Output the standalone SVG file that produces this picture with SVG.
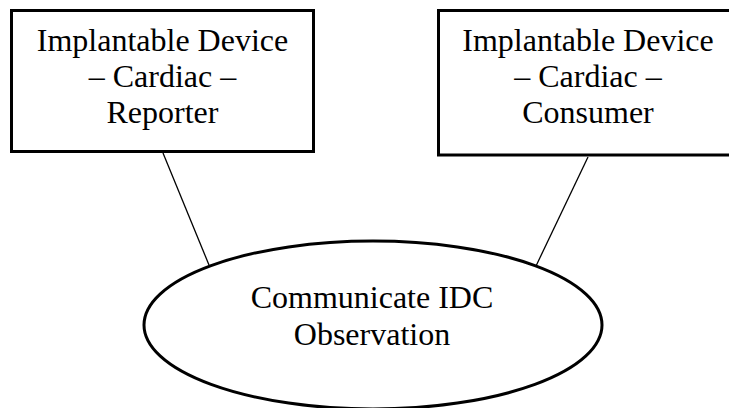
<svg xmlns="http://www.w3.org/2000/svg" width="729" height="408" viewBox="0 0 729 408">
<style>
.box{fill:#fff;stroke:#000;stroke-width:3}
.t{font-family:"Liberation Serif","Times New Roman",serif;font-size:32px;fill:#000;text-anchor:middle}
.c{stroke:#000;stroke-width:1.3;fill:none}
</style>
<rect width="729" height="408" fill="#fff"/>
<g id="connectors">
<line class="c" x1="163" y1="153" x2="209" y2="265"/>
<line class="c" x1="588" y1="157" x2="536" y2="266"/>
</g>
<g id="reporter">
<rect class="box" x="11.5" y="10.5" width="302" height="141"/>
<text class="t" x="162.5" y="51">Implantable Device</text>
<text class="t" x="162.5" y="87">– Cardiac –</text>
<text class="t" x="162.5" y="123">Reporter</text>
</g>
<g id="consumer">
<rect class="box" x="438.5" y="10.5" width="300" height="144.5"/>
<text class="t" x="588" y="51">Implantable Device</text>
<text class="t" x="588" y="87">– Cardiac –</text>
<text class="t" x="588" y="123">Consumer</text>
</g>
<g id="usecase">
<ellipse class="box" cx="373" cy="325" rx="229" ry="84"/>
<text class="t" x="372" y="308">Communicate IDC</text>
<text class="t" x="372" y="345">Observation</text>
</g>
</svg>
